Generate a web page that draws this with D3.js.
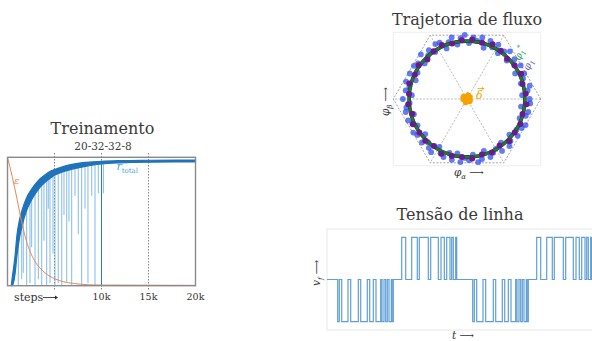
<!DOCTYPE html>
<html><head><meta charset="utf-8">
<script src="https://cdn.jsdelivr.net/npm/d3@7"></script>
<style>body{margin:0;background:#fff}svg{display:block}</style>
</head><body><svg id="fig" width="592" height="341"></svg>
<script>
// ---------- Training panel data ----------
const trainTitle = "Treinamento";
const trainSubtitle = "20-32-32-8";
const trainSteps = [400, 500, 800, 1000, 1300, 1600, 2000, 2500, 3000, 3500, 4000, 4500, 5000, 6000, 7000, 8000, 9000, 10000, 12000, 15000, 20000];
const rLower =     [0.00, 0.00, 0.09, 0.23, 0.38, 0.48, 0.58, 0.66, 0.72, 0.77, 0.805, 0.835, 0.86, 0.89, 0.91, 0.925, 0.938, 0.948, 0.957, 0.962, 0.964];
const rUpper =     [0.00, 0.06, 0.23, 0.39, 0.52, 0.60, 0.68, 0.745, 0.795, 0.835, 0.865, 0.89, 0.905, 0.93, 0.947, 0.958, 0.964, 0.969, 0.974, 0.977, 0.979];
const epsSteps =  [0, 500, 1000, 1500, 2000, 2500, 3000, 3500, 4000, 5000, 6000, 7000, 8000, 10000, 20000];
const epsValues = [1.0, 0.85, 0.68, 0.50, 0.35, 0.25, 0.18, 0.135, 0.10, 0.055, 0.03, 0.018, 0.01, 0.005, 0.003];
const spikeSteps = [1150, 1510, 1680, 2040, 2390, 2570, 2930, 3280, 3640, 3880, 4170, 4340, 4520, 4840, 5050, 5400, 5770, 6010, 6300, 6540, 6830, 7180, 7530, 7890, 8245, 8560, 8960, 9310, 9660, 10200];
const spikeMin =   [0.00, 0.05, 0.10, 0.00, 0.02, 0.30, 0.00, 0.05, 0.00, 0.35, 0.00, 0.60, 0.02, 0.25, 0.00, 0.02, 0.00, 0.55, 0.03, 0.50, 0.00, 0.70, 0.40, 0.00, 0.60, 0.02, 0.70, 0.00, 0.72, 0.72];
const darkSpikes = [[10000, 0.0]];
const gridSteps = [5000, 10000, 15000];
const tickSteps = [10000, 15000, 20000];
const tickLabels = ["10k", "15k", "20k"];

// ---------- Flux panel data ----------
const fluxTitle = "Trajetoria de fluxo";
const hexAngles = [0, 60, 120, 180, 240, 300];
const hexRadius = 1.0;
const fluxRefRadius = 0.785;
const purpleAngles = [5, 15, 25, 35, 45, 55, 65, 75, 85, 95, 105, 115, 125, 135, 145, 155, 165, 175, 185, 195, 205, 215, 225, 235, 245, 255, 265, 275, 285, 295, 305, 315, 325, 335, 345, 355];
const purpleRadii =  [0.80, 0.78, 0.81, 0.79, 0.77, 0.80, 0.82, 0.79, 0.81, 0.80, 0.78, 0.81, 0.79, 0.76, 0.80, 0.78, 0.81, 0.79, 0.80, 0.77, 0.81, 0.79, 0.80, 0.78, 0.82, 0.80, 0.79, 0.81, 0.78, 0.80, 0.77, 0.81, 0.79, 0.80, 0.78, 0.81];
const blueAngles = [0, 4, 8, 12, 16, 20, 24, 28, 32, 36, 40, 44, 48, 52, 56, 60, 64, 68, 72, 76, 80, 84, 88, 92, 96, 100, 104, 108, 112, 116, 120, 124, 128, 132, 136, 140, 144, 148, 152, 156, 160, 164, 168, 172, 176, 180, 184, 188, 192, 196, 200, 204, 208, 212, 216, 220, 224, 228, 232, 236, 240, 244, 248, 252, 256, 260, 264, 268, 272, 276, 280, 284, 288, 292, 296, 300, 304, 308, 312, 316, 320, 324, 328, 332, 336, 340, 344, 348, 352, 356];
const blueRadii = [0.85, 0.75, 0.83, 0.87, 0.76, 0.81, 0.85, 0.74, 0.86, 0.79,
  0.84, 0.75, 0.87, 0.82, 0.75, 0.85, 0.78, 0.85, 0.73, 0.86,
  0.80, 0.84, 0.76, 0.87, 0.83, 0.75, 0.86, 0.81, 0.74, 0.85,
  0.86, 0.77, 0.84, 0.79, 0.87, 0.75, 0.82, 0.85, 0.76, 0.85,
  0.74, 0.86, 0.80, 0.84, 0.75, 0.87, 0.78, 0.83, 0.85, 0.75,
  0.85, 0.81, 0.76, 0.86, 0.83, 0.74, 0.85, 0.79, 0.84, 0.87,
  0.75, 0.82, 0.85, 0.77, 0.85, 0.75, 0.86, 0.80, 0.83, 0.76,
  0.87, 0.84, 0.74, 0.85, 0.81, 0.78, 0.85, 0.75, 0.86, 0.82,
  0.75, 0.85, 0.79, 0.84, 0.87, 0.76, 0.83, 0.85, 0.74, 0.86];
const deltaBlobX = [0.00, 0.03, -0.04, 0.02, -0.02, 0.05, -0.06, 0.01, 0.04];
const deltaBlobY = [0.00, -0.02, 0.02, 0.04, -0.05, 0.03, -0.01, 0.07, -0.05];
const deltaBlobR = [0.07, 0.05, 0.05, 0.04, 0.035, 0.03, 0.03, 0.025, 0.02];

// ---------- Line voltage panel data ----------
const voltTitle = "Tensão de linha";
const voltTimes = [0, 10.7, 12.3, 14.7, 21, 23.7, 31.3, 33.7, 40.3, 42.7, 46.3, 49, 53.7, 55, 57, 58.7, 60.3, 62, 64.3, 65, 66.3,
  74.7, 78.7, 84.7, 90.3, 92.3, 101.3, 103.7, 111.3, 114, 117.3, 119.7, 123, 124.7, 126.3, 128.7, 129.7,
  145.7, 147.3, 149.7, 156, 158.7, 166.3, 168.7, 175.3, 177.7, 181.3, 184, 188.7, 190, 192, 193.7, 195.3, 197, 199.3, 200, 201.3,
  209.7, 213.7, 219.7, 225.3, 227.3, 236.3, 238.7, 246.3, 249, 252.3, 254.7, 258, 259.7, 261.3, 263.7, 264.7, 265];
const voltLevels = [0, -1, 0, -1, 0, -1, 0, -1, 0, -1, 0, -1, 0, -1, 0, -1, 0, -1, 0, -1, 0,
  1, 0, 1, 0, 1, 0, 1, 0, 1, 0, 1, 0, 1, 0, 1, 0,
  -1, 0, -1, 0, -1, 0, -1, 0, -1, 0, -1, 0, -1, 0, -1, 0, -1, 0, -1, 0,
  1, 0, 1, 0, 1, 0, 1, 0, 1, 0, 1, 0, 1, 0, 1, 0, 0];

const svg = d3.select("#fig");
const serif = "'DejaVu Serif', serif";
const titleColor = "#3a3a3a";

// =============== Training panel ===============
{
  const x = d3.scaleLinear().domain([0, 20000]).range([7.5, 195.5]);
  const y = d3.scaleLinear().domain([0, 1]).range([285.7, 157.3]);
  const g = svg.append("g");
  g.append("text").attr("x", 102.5).attr("y", 134).attr("text-anchor", "middle")
    .attr("font-family", serif).attr("font-size", 16).attr("fill", titleColor).text(trainTitle);
  g.append("text").attr("x", 103).attr("y", 150).attr("text-anchor", "middle")
    .attr("font-family", serif).attr("font-size", 10.5).attr("fill", titleColor).text(trainSubtitle);

  g.selectAll(".grid").data(gridSteps).join("line")
    .attr("x1", d => x(d)).attr("x2", d => x(d)).attr("y1", 153).attr("y2", 290)
    .attr("stroke", "#777").attr("stroke-width", 0.9).attr("stroke-dasharray", "1.5,1.5");

  const interp = s => {
    const i = d3.bisectLeft(trainSteps, s);
    const j = Math.max(1, Math.min(trainSteps.length - 1, i));
    const t = (s - trainSteps[j - 1]) / (trainSteps[j] - trainSteps[j - 1]);
    return rLower[j - 1] + t * (rLower[j] - rLower[j - 1]);
  };
  g.selectAll(".spike").data(spikeSteps.map((s, i) => [s, spikeMin[i]])).join("line")
    .attr("x1", d => x(d[0])).attr("x2", d => x(d[0]))
    .attr("y1", d => y(interp(d[0]))).attr("y2", d => y(d[1]))
    .attr("stroke", "#6fb0e3").attr("stroke-width", 1).attr("opacity", 0.85);
  g.selectAll(".dspike").data(darkSpikes).join("line")
    .attr("x1", d => x(d[0])).attr("x2", d => x(d[0]))
    .attr("y1", d => y(interp(d[0]))).attr("y2", d => y(d[1]))
    .attr("stroke", "#2a7cc4").attr("stroke-width", 1);

  const band = trainSteps.map((s, i) => ({s, lo: rLower[i], hi: rUpper[i]}));
  g.append("path").datum(band)
    .attr("d", d3.area().x(d => x(d.s)).y0(d => y(d.lo)).y1(d => y(d.hi)).curve(d3.curveMonotoneX))
    .attr("fill", "#1f73bb").attr("stroke", "#1f73bb").attr("stroke-width", 1.2);

  g.append("path").datum(epsSteps.map((s, i) => [s, epsValues[i]]))
    .attr("d", d3.line().x(d => x(d[0])).y(d => y(d[1])).curve(d3.curveMonotoneX))
    .attr("fill", "none").attr("stroke", "#e8875a").attr("stroke-width", 1);

  g.append("rect").attr("x", 7.5).attr("y", 157.3).attr("width", 188).attr("height", 128.4)
    .attr("fill", "none").attr("stroke", "#8a8a8a").attr("stroke-width", 1.4);

  g.append("text").attr("x", 14).attr("y", 184).attr("font-family", serif).attr("font-style", "italic")
    .attr("font-size", 10).attr("fill", "#e8875a").text("ε");
  const rt = g.append("text").attr("x", 116.5).attr("y", 170).attr("font-family", serif)
    .attr("font-style", "italic").attr("font-size", 11).attr("fill", "#4ea6de");
  rt.append("tspan").text("r");
  rt.append("tspan").attr("dy", 3).attr("font-size", 7).attr("font-style", "normal").text("total");

  g.selectAll(".tick").data(tickSteps).join("text")
    .attr("x", d => x(d)).attr("y", 300).attr("text-anchor", "middle")
    .attr("font-family", serif).attr("font-size", 9.5).attr("fill", "#333")
    .text((d, i) => tickLabels[i]);
  g.append("text").attr("x", 14).attr("y", 301).attr("font-family", serif)
    .attr("font-size", 11).attr("fill", "#333").text("steps");
  g.append("line").attr("x1", 43).attr("x2", 55).attr("y1", 297.5).attr("y2", 297.5)
    .attr("stroke", "#333").attr("stroke-width", 0.9);
  g.append("path").attr("d", "M55,295.5 L58,297.5 L55,299.5 Z").attr("fill", "#333");
}

// =============== Flux panel ===============
{
  const cx = 467, cy = 99, R = 73.7;
  const x = d3.scaleLinear().domain([-1, 1]).range([cx - R, cx + R]);
  const y = d3.scaleLinear().domain([-1, 1]).range([cy + R, cy - R]);
  const g = svg.append("g");
  g.append("text").attr("x", 467).attr("y", 25).attr("text-anchor", "middle")
    .attr("font-family", serif).attr("font-size", 16).attr("fill", titleColor).text(fluxTitle);
  g.append("rect").attr("x", x(-1)).attr("y", y(0.905)).attr("width", x(1) - x(-1)).attr("height", y(-0.905) - y(0.905))
    .attr("fill", "none").attr("stroke", "#eeeeee").attr("stroke-width", 1);

  const verts = hexAngles.map(a => [hexRadius * Math.cos(a * Math.PI / 180), hexRadius * Math.sin(a * Math.PI / 180)]);
  g.append("path").attr("d", d3.line().x(d => x(d[0])).y(d => y(d[1]))(verts) + "Z")
    .attr("fill", "none").attr("stroke", "#9a9a9a").attr("stroke-width", 0.9).attr("stroke-dasharray", "2,1.5");
  g.selectAll(".spoke").data(verts.slice(0, 3)).join("line")
    .attr("x1", d => x(d[0])).attr("y1", d => y(d[1])).attr("x2", d => x(-d[0])).attr("y2", d => y(-d[1]))
    .attr("stroke", "#a8a8a8").attr("stroke-width", 0.8).attr("stroke-dasharray", "2,1.5");

  const pol = (a, r) => [r * Math.cos(a * Math.PI / 180), r * Math.sin(a * Math.PI / 180)];
  g.selectAll(".blue").data(blueAngles.map((a, i) => pol(a, blueRadii[i]))).join("circle")
    .attr("cx", d => x(d[0])).attr("cy", d => y(d[1])).attr("r", 2.9)
    .attr("fill", "#2848f0").attr("fill-opacity", 0.72);

  g.append("circle").attr("cx", x(0)).attr("cy", y(0)).attr("r", x(fluxRefRadius) - x(0))
    .attr("fill", "none").attr("stroke", "#0f3a16").attr("stroke-width", 3.6);
  g.append("circle").attr("cx", x(0)).attr("cy", y(0)).attr("r", x(fluxRefRadius) - x(0))
    .attr("fill", "none").attr("stroke", "#1e7d2a").attr("stroke-width", 2.8);

  g.selectAll(".purple").data(purpleAngles.map((a, i) => pol(a, purpleRadii[i]))).join("circle")
    .attr("cx", d => x(d[0])).attr("cy", d => y(d[1])).attr("r", 3)
    .attr("fill", "#6a1b8a");

  g.selectAll(".blob").data(deltaBlobX.map((v, i) => [v, deltaBlobY[i], deltaBlobR[i]])).join("circle")
    .attr("cx", d => x(d[0])).attr("cy", d => y(d[1])).attr("r", d => x(d[2]) - x(0))
    .attr("fill", "#f5a300");

  g.append("text").attr("x", 476).attr("y", 99).attr("font-family", serif)
    .attr("font-style", "italic").attr("font-size", 11).attr("fill", "#f5a300").text("δ");
  g.append("line").attr("x1", 477.5).attr("x2", 483).attr("y1", 88.5).attr("y2", 88.5)
    .attr("stroke", "#f5a300").attr("stroke-width", 0.8);
  g.append("path").attr("d", "M482,87 L484.5,88.5 L482,90 Z").attr("fill", "#f5a300");

  const l1 = g.append("text").attr("transform", "translate(520,61) rotate(-68)")
    .attr("font-family", serif).attr("font-style", "italic").attr("font-size", 10).attr("fill", "#2e9e5a");
  l1.append("tspan").text("φ");
  l1.append("tspan").attr("dy", 2.5).attr("font-size", 6.5).text("1");
  l1.append("tspan").attr("dy", -6).attr("font-size", 7).text("*");
  const l2 = g.append("text").attr("transform", "translate(529,71) rotate(-68)")
    .attr("font-family", serif).attr("font-style", "italic").attr("font-size", 10).attr("fill", "#5e60b8");
  l2.append("tspan").text("φ");
  l2.append("tspan").attr("dy", 2.5).attr("font-size", 6.5).text("1");

  const ya = g.append("text").attr("transform", "translate(389,116) rotate(-90)")
    .attr("font-family", serif).attr("font-style", "italic").attr("font-size", 10.5).attr("fill", "#333");
  ya.append("tspan").text("φ");
  ya.append("tspan").attr("dy", 2.5).attr("font-size", 7).text("β");
  ya.append("tspan").attr("dy", -2.5).attr("font-style", "normal").attr("font-size", 10).text(" ⟶");
  const xa = g.append("text").attr("x", 454).attr("y", 176)
    .attr("font-family", serif).attr("font-style", "italic").attr("font-size", 10.5).attr("fill", "#333");
  xa.append("tspan").text("φ");
  xa.append("tspan").attr("dy", 2.5).attr("font-size", 7).text("α");
  xa.append("tspan").attr("dy", -2.5).attr("font-style", "normal").attr("font-size", 10).text(" ⟶");
}

// =============== Line voltage panel ===============
{
  const x = d3.scaleLinear().domain([0, 265]).range([327, 592]);
  const y = d3.scaleLinear().domain([-1.2, 1.2]).range([330, 229]);
  const g = svg.append("g");
  g.append("text").attr("x", 460).attr("y", 220).attr("text-anchor", "middle")
    .attr("font-family", serif).attr("font-size", 16).attr("fill", titleColor).text(voltTitle);
  g.append("rect").attr("x", 327).attr("y", 229).attr("width", 270).attr("height", 101)
    .attr("fill", "none").attr("stroke", "#e8e8e8").attr("stroke-width", 1);
  g.append("path").datum(voltTimes.map((t, i) => [t, voltLevels[i]]))
    .attr("d", d3.line().x(d => x(d[0])).y(d => y(d[1])).curve(d3.curveStepAfter))
    .attr("fill", "none").attr("stroke", "#5f9fd6").attr("stroke-width", 1.2);

  const va = g.append("text").attr("transform", "translate(320,286) rotate(-90)")
    .attr("font-family", serif).attr("font-style", "italic").attr("font-size", 10.5).attr("fill", "#333");
  va.append("tspan").text("v");
  va.append("tspan").attr("dy", 2.5).attr("font-size", 7).text("f");
  va.append("tspan").attr("dy", -2.5).attr("font-style", "normal").attr("font-size", 10).text(" ⟶");
  const ta = g.append("text").attr("x", 452).attr("y", 339)
    .attr("font-family", serif).attr("font-style", "italic").attr("font-size", 10.5).attr("fill", "#333");
  ta.append("tspan").text("t");
  ta.append("tspan").attr("font-style", "normal").attr("font-size", 10).text(" ⟶");
}
</script></body></html>
